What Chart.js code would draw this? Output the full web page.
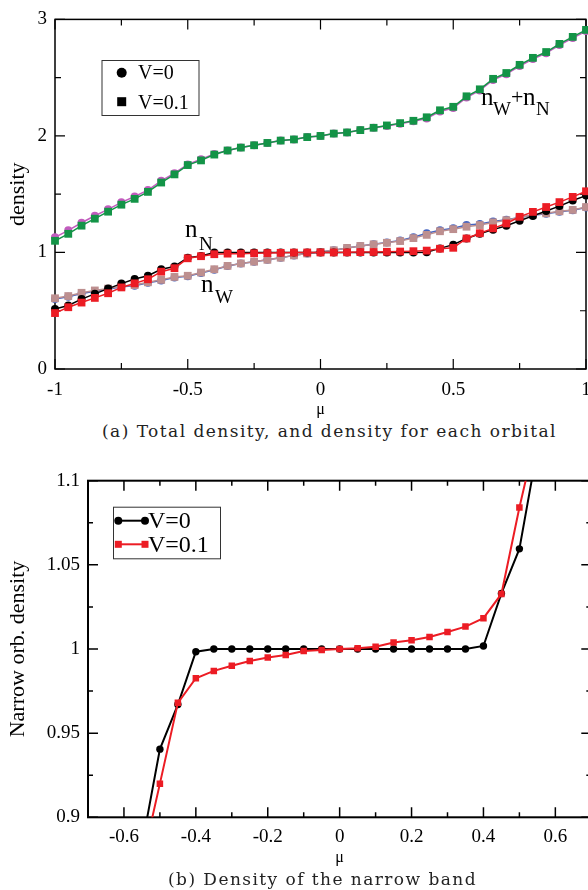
<!DOCTYPE html>
<html>
<head>
<meta charset="utf-8">
<script src="https://cdn.jsdelivr.net/npm/chart.js@4"></script>
<style>
  html, body { margin: 0; padding: 0; background: #fff; overflow: hidden; }
  #page { position: relative; width: 588px; height: 890px; overflow: hidden; }
  .panel { position: absolute; left: 0; }
  .caption { position: absolute; font-family: 'DejaVu Serif', serif; font-size: 17px; line-height: 18px; white-space: nowrap; color: #222; }
</style>
</head>
<body>
<div id="page">
  <div class="panel" style="top:0;width:620px;height:420px"><canvas id="chartA"></canvas></div>
  <div class="caption" style="left:102px;top:422px" data-w="455">(a) Total density, and density for each orbital</div>
  <div class="panel" style="top:460px;width:620px;height:410px"><canvas id="chartB"></canvas></div>
  <div class="caption" style="left:168px;top:870px" data-w="309">(b) Density of the narrow band</div>
</div>
<script>
// --- panel (a): total and per-orbital density vs mu ---
const mu = [-1, -0.95, -0.9, -0.85, -0.8, -0.75, -0.7, -0.65, -0.6, -0.55, -0.5, -0.45, -0.4, -0.35, -0.3, -0.25, -0.2, -0.15, -0.1, -0.05,
  0, 0.05, 0.1, 0.15, 0.2, 0.25, 0.3, 0.35, 0.4, 0.45, 0.5, 0.55, 0.6, 0.65, 0.7, 0.75, 0.8, 0.85, 0.9, 0.95, 1];

const totalV01 = [1.10, 1.16, 1.23, 1.29, 1.35, 1.41, 1.46, 1.52, 1.60, 1.67, 1.75, 1.79, 1.84, 1.875, 1.90, 1.92, 1.94, 1.96, 1.97, 1.99,
  2.00, 2.02, 2.03, 2.05, 2.07, 2.09, 2.11, 2.13, 2.16, 2.22, 2.25, 2.34, 2.40, 2.49, 2.54, 2.61, 2.67, 2.72, 2.79, 2.85, 2.91];
const totalV0 = [1.13, 1.19, 1.255, 1.315, 1.37, 1.43, 1.48, 1.535, 1.615, 1.68, 1.755, 1.80, 1.845, 1.875, 1.90, 1.92, 1.94, 1.96, 1.97, 1.99,
  2.00, 2.02, 2.03, 2.05, 2.07, 2.085, 2.105, 2.125, 2.15, 2.21, 2.24, 2.33, 2.39, 2.48, 2.53, 2.60, 2.66, 2.71, 2.78, 2.84, 2.90];
const nNV01 = [0.48, 0.53, 0.57, 0.61, 0.65, 0.70, 0.735, 0.77, 0.835, 0.865, 0.95, 0.968, 0.985, 0.99, 0.99, 0.993, 0.995, 0.997, 0.999, 1.0,
  1.0, 1.0, 1.001, 1.003, 1.004, 1.006, 1.008, 1.011, 1.016, 1.032, 1.04, 1.12, 1.165, 1.207, 1.249, 1.306, 1.348, 1.39, 1.432, 1.477, 1.525];
const nNV0 = [0.515, 0.545, 0.60, 0.645, 0.69, 0.733, 0.772, 0.80, 0.856, 0.88, 0.955, 0.97, 1.0, 1.0, 1.0, 1.0, 1.0, 1.0, 1.0, 1.0,
  1.0, 1.0, 1.0, 1.0, 1.0, 1.0, 1.0, 1.0, 1.002, 1.035, 1.067, 1.12, 1.16, 1.196, 1.23, 1.272, 1.314, 1.356, 1.398, 1.446, 1.488];
const nWV01 = [0.607, 0.626, 0.654, 0.674, 0.69, 0.71, 0.72, 0.744, 0.765, 0.79, 0.80, 0.828, 0.856, 0.885, 0.906, 0.921, 0.937, 0.955, 0.975, 0.991,
  1.005, 1.019, 1.039, 1.056, 1.07, 1.083, 1.098, 1.123, 1.151, 1.182, 1.20, 1.221, 1.235, 1.258, 1.277, 1.30, 1.323, 1.336, 1.353, 1.365, 1.39];
const nWV0 = [0.60, 0.62, 0.648, 0.668, 0.685, 0.705, 0.715, 0.74, 0.76, 0.785, 0.795, 0.823, 0.852, 0.883, 0.905, 0.92, 0.937, 0.955, 0.975, 0.991,
  1.005, 1.019, 1.039, 1.056, 1.07, 1.085, 1.102, 1.13, 1.165, 1.19, 1.207, 1.235, 1.245, 1.265, 1.28, 1.30, 1.32, 1.333, 1.35, 1.362, 1.385];

const xTicksA = [-1, -0.5, 0, 0.5, 1];
const xMinorA = [-0.75, -0.25, 0.25, 0.75];
const yTicksA = [0, 1, 2, 3];
const yMinorA = [0.5, 1.5, 2.5];

// --- panel (b): narrow orbital density, zoomed ---
const muB = [-0.55, -0.5, -0.45, -0.4, -0.35, -0.3, -0.25, -0.2, -0.15, -0.1, -0.05, 0, 0.05, 0.1, 0.15, 0.2, 0.25, 0.3, 0.35, 0.4, 0.45, 0.5, 0.55];
const narrowV0 = [0.883, 0.9405, 0.967, 0.9984, 1.0, 1.0, 1.0, 1.0, 1.0, 1.0, 1.0, 1.0, 1.0, 1.0, 1.0, 1.0, 1.0, 1.0, 1.0, 1.0018, 1.033, 1.0595, 1.119];
const narrowV01 = [0.8725, 0.920, 0.968, 0.9826, 0.987, 0.990, 0.9929, 0.995, 0.9964, 0.9988, 0.9994, 1.0, 1.0004, 1.0014, 1.0038, 1.0052, 1.0071, 1.0101, 1.0133, 1.0183, 1.0327, 1.0841, 1.13];

const xTicksB = [-0.6, -0.4, -0.2, 0, 0.2, 0.4, 0.6];
const xMinorB = [-0.5, -0.3, -0.1, 0.1, 0.3, 0.5];
const yTicksB = [0.9, 0.95, 1, 1.05, 1.1];
const yMinorB = [0.925, 0.975, 1.025, 1.075];

const SERIF = "'Liberation Serif', 'Times New Roman', serif";
const pts = (xs, ys) => xs.map((x, i) => ({ x: x, y: ys[i] }));
const fmt = v => String(+v.toFixed(3));

function series(label, xs, ys, color, style, radius, width) {
  return {
    label: label, data: pts(xs, ys), borderColor: color, backgroundColor: color,
    borderWidth: width, pointStyle: style, pointRadius: radius, pointBorderWidth: 0,
    pointBackgroundColor: color, tension: 0
  };
}

// frame with inward ticks on all four sides, plus legend box and text labels
function makeDecor(cfg) {
  return {
    id: 'decor',
    beforeDatasetsDraw(chart) {
      const { ctx, chartArea: a, scales: { x, y } } = chart;
      ctx.save();
      ctx.strokeStyle = '#000';
      ctx.lineWidth = cfg.frameWidth;
      ctx.strokeRect(a.left, a.top, a.right - a.left, a.bottom - a.top);
      ctx.lineWidth = cfg.tickWidth;
      ctx.beginPath();
      const xt = (v, len) => {
        const p = x.getPixelForValue(v);
        ctx.moveTo(p, a.bottom); ctx.lineTo(p, a.bottom - len);
        ctx.moveTo(p, a.top); ctx.lineTo(p, a.top + len);
      };
      const yt = (v, len) => {
        const p = y.getPixelForValue(v);
        ctx.moveTo(a.left, p); ctx.lineTo(a.left + len, p);
        ctx.moveTo(a.right, p); ctx.lineTo(a.right - len, p);
      };
      cfg.xMajor.forEach(v => xt(v, cfg.majorLen));
      cfg.xMinor.forEach(v => xt(v, cfg.minorLen));
      cfg.yMajor.forEach(v => yt(v, cfg.majorLen));
      cfg.yMinor.forEach(v => yt(v, cfg.minorLen));
      ctx.stroke();
      ctx.restore();
    },
    afterDatasetsDraw(chart) {
      const ctx = chart.ctx;
      ctx.save();
      const L = cfg.legend;
      ctx.fillStyle = '#fff';
      ctx.fillRect(L.x, L.y, L.w, L.h);
      ctx.strokeStyle = '#333';
      ctx.lineWidth = 1;
      ctx.strokeRect(L.x + 0.5, L.y + 0.5, L.w, L.h);
      const marker = (shape, cx, cy, s, color) => {
        ctx.fillStyle = color;
        if (shape === 'circle') {
          ctx.beginPath(); ctx.arc(cx, cy, s, 0, Math.PI * 2); ctx.fill();
        } else {
          ctx.fillRect(cx - s / 2, cy - s / 2, s, s);
        }
      };
      L.items.forEach(it => {
        if (it.x2) {
          ctx.strokeStyle = it.color; ctx.lineWidth = 2;
          ctx.beginPath(); ctx.moveTo(it.x1, it.y); ctx.lineTo(it.x2, it.y); ctx.stroke();
          marker(it.shape, it.x1, it.y, it.size, it.color);
          marker(it.shape, it.x2, it.y, it.size, it.color);
        } else {
          marker(it.shape, it.x1, it.y, it.size, it.color);
        }
        ctx.fillStyle = '#000';
        ctx.font = L.font;
        ctx.textBaseline = 'alphabetic';
        ctx.fillText(it.text, it.tx, it.ty);
      });
      (cfg.labels || []).forEach(t => {
        ctx.fillStyle = '#000';
        ctx.font = t.font;
        ctx.textBaseline = 'alphabetic';
        ctx.fillText(t.text, t.x, t.y);
      });
      ctx.restore();
    }
  };
}

function axes(o) {
  return {
    x: {
      type: 'linear', min: o.xmin, max: o.xmax,
      grid: { display: false, drawTicks: false }, border: { display: false },
      afterBuildTicks: s => { s.ticks = o.xt.map(v => ({ value: v })); },
      afterFit: s => { s.height = o.xh; },
      ticks: { autoSkip: false, maxRotation: 0, padding: o.xpad, color: '#000', font: { family: SERIF, size: 19 }, callback: fmt },
      title: { display: true, text: 'μ', color: '#000', font: { family: SERIF, size: 16 }, padding: { top: 0, bottom: o.tpad } }
    },
    y: {
      type: 'linear', min: o.ymin, max: o.ymax,
      grid: { display: false, drawTicks: false }, border: { display: false },
      afterBuildTicks: s => { s.ticks = o.yt.map(v => ({ value: v })); },
      afterFit: s => { s.width = o.yw; },
      ticks: { autoSkip: false, padding: 8, color: '#000', font: { family: SERIF, size: 19 }, callback: fmt },
      title: { display: true, text: o.ytitle, color: '#000', font: { family: SERIF, size: 22 }, padding: { top: 5, bottom: 0 } }
    }
  };
}

const common = {
  responsive: true, maintainAspectRatio: false, animation: false, devicePixelRatio: 1,
  plugins: { legend: { display: false }, tooltip: { enabled: false } }
};

const MAG = '#c25cbe', GRN = '#139447', RED = '#ec1c24', BLU = '#4664c0', ROSY = '#bd8f8f', BLK = '#000000';

new Chart(document.getElementById('chartA'), {
  type: 'line',
  data: {
    datasets: [
      series('n_W+n_N V=0.1', mu, totalV01, GRN, 'rect', 5.5, 1.5),
      series('n_W+n_N V=0', mu, totalV0, MAG, 'circle', 4, 1.5),
      series('n_N V=0.1', mu, nNV01, RED, 'rect', 5.5, 1.5),
      series('n_N V=0', mu, nNV0, BLK, 'circle', 4, 1.5),
      series('n_W V=0.1', mu, nWV01, ROSY, 'rect', 5.5, 1.5),
      series('n_W V=0', mu, nWV0, BLU, 'circle', 4, 1.5)
    ].map(d => Object.assign(d, { clip: false }))
  },
  options: Object.assign({}, common, {
    layout: { padding: { top: 13, right: 34, bottom: 0, left: 0 } },
    scales: axes({ xmin: -1, xmax: 1, ymin: 0, ymax: 3, xt: xTicksA, yt: yTicksA, xh: 51, yw: 55, xpad: 10, tpad: 1, ytitle: 'density' })
  }),
  plugins: [makeDecor({
    frameWidth: 1.5, tickWidth: 1.2, majorLen: 10, minorLen: 6,
    xMajor: xTicksA, xMinor: xMinorA, yMajor: yTicksA, yMinor: yMinorA,
    legend: {
      x: 101.5, y: 60, w: 97, h: 55, font: '20px ' + SERIF,
      items: [
        { shape: 'circle', color: BLK, x1: 121.7, y: 72.7, size: 5, text: 'V=0', tx: 138, ty: 79 },
        { shape: 'square', color: BLK, x1: 121.7, y: 101.7, size: 9, text: 'V=0.1', tx: 138, ty: 109 }
      ]
    },
    labels: [
      { text: 'n', x: 185, y: 237, font: '25px ' + SERIF },
      { text: 'N', x: 199, y: 250, font: '19px ' + SERIF },
      { text: 'n', x: 201, y: 292, font: '25px ' + SERIF },
      { text: 'W', x: 215, y: 303, font: '19px ' + SERIF },
      { text: 'n', x: 481, y: 105, font: '25px ' + SERIF },
      { text: 'W', x: 493, y: 115, font: '19px ' + SERIF },
      { text: '+', x: 511, y: 104, font: '22px ' + SERIF },
      { text: 'n', x: 523, y: 105, font: '25px ' + SERIF },
      { text: 'N', x: 536, y: 115, font: '19px ' + SERIF }
    ]
  })]
});

new Chart(document.getElementById('chartB'), {
  type: 'line',
  data: {
    datasets: [
      series('V=0.1', muB, narrowV01, RED, 'rect', 4.6, 2),
      series('V=0', muB, narrowV0, BLK, 'circle', 3.7, 2)
    ].map(d => Object.assign(d, { clip: 0 }))
  },
  options: Object.assign({}, common, {
    layout: { padding: { top: 20.7, right: 28.7, bottom: 0, left: 0 } },
    scales: axes({ xmin: -0.7, xmax: 0.7, ymin: 0.9, ymax: 1.1, xt: xTicksB, yt: yTicksB, xh: 52.7, yw: 88, xpad: 8, tpad: 3, ytitle: 'Narrow orb. density' })
  }),
  plugins: [makeDecor({
    frameWidth: 2, tickWidth: 1.5, majorLen: 10, minorLen: 5,
    xMajor: xTicksB, xMinor: xMinorB, yMajor: yTicksB, yMinor: yMinorB,
    legend: {
      x: 113, y: 46.7, w: 107, h: 51.6, font: '24px ' + SERIF,
      items: [
        { shape: 'circle', color: BLK, x1: 118.3, x2: 145, y: 60.7, size: 4, text: 'V=0', tx: 148, ty: 68.3 },
        { shape: 'square', color: RED, x1: 118.3, x2: 145, y: 84.3, size: 7, text: 'V=0.1', tx: 148, ty: 91.7 }
      ]
    },
    labels: []
  })]
});

// stretch captions to the width they take in the reference
document.querySelectorAll('.caption').forEach(el => {
  const target = +el.dataset.w;
  const w = el.getBoundingClientRect().width;
  el.style.letterSpacing = ((target - w) / el.textContent.length) + 'px';
});
</script>
</body>
</html>
